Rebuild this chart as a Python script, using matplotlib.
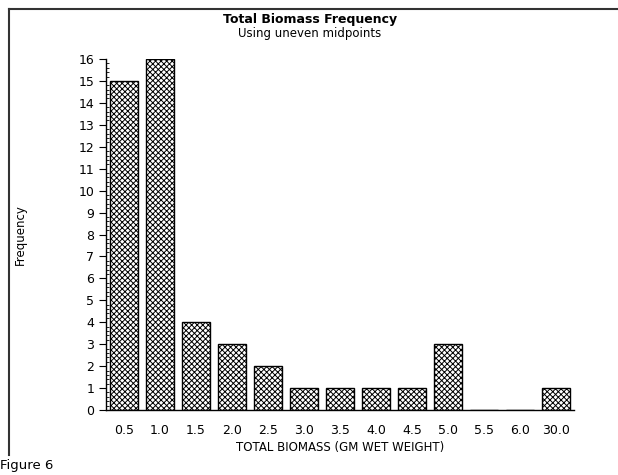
import matplotlib
matplotlib.use("Agg")
import matplotlib.pyplot as plt
from matplotlib.lines import Line2D
from matplotlib.ticker import MultipleLocator

midpoints = ['0.5', '1.0', '1.5', '2.0', '2.5', '3.0', '3.5', '4.0', '4.5', '5.0', '5.5', '6.0', '30.0']
freq = [15, 16, 4, 3, 2, 1, 1, 1, 1, 3, 0, 0, 1]

W, H = 618, 475
plt.rcParams['font.family'] = ['DejaVu Sans']
plt.rcParams['hatch.linewidth'] = 0.7

fig = plt.figure(figsize=(W / 100, H / 100), dpi=100)
ax = fig.add_axes([106 / W, (H - 410) / H, (574 - 106) / W, (410 - 59) / H])

x = list(range(len(midpoints)))
ax.bar(x, freq, width=0.8, color='white', edgecolor='black', linewidth=1.0, hatch='xxxxxx')

ax.set_xlim(-0.5, len(midpoints) - 0.5)
ax.set_ylim(0, 16)
ax.set_xticks(x)
ax.set_xticklabels(midpoints)
ax.set_yticks(range(0, 17))
ax.yaxis.set_minor_locator(MultipleLocator(0.2))
ax.tick_params(axis='x', length=0, labelsize=9, pad=10)
ax.tick_params(axis='y', which='major', length=5, labelsize=9, direction='out')
ax.tick_params(axis='y', which='minor', length=2, width=0.6, direction='in')
ax.spines['top'].set_visible(False)
ax.spines['right'].set_visible(False)
for s in ['left', 'bottom']:
    ax.spines[s].set_linewidth(1.0)

fig.text(310 / W, 1 - 19 / H, 'Total Biomass Frequency', ha='center', va='center',
         fontsize=9, fontweight='bold')
fig.text(310 / W, 1 - 33 / H, 'Using uneven midpoints', ha='center', va='center', fontsize=8.5)
fig.text(340 / W, 1 - 448 / H, 'TOTAL BIOMASS (GM WET WEIGHT)', ha='center', va='center', fontsize=8.5)
fig.text(20 / W, 1 - 235 / H, 'Frequency', ha='center', va='center', rotation=90, fontsize=8.5)
fig.text(0, 1 - 466 / H, 'Figure 6', ha='left', va='center', fontsize=9.5)

# page frame
fig.add_artist(Line2D([9 / W, 1], [1 - 9 / H, 1 - 9 / H], color='#333333', linewidth=1.5))
fig.add_artist(Line2D([9 / W, 9 / W], [1 - 9 / H, 1 - 455 / H], color='#333333', linewidth=1.5))

fig.savefig('out.png', dpi=100)
